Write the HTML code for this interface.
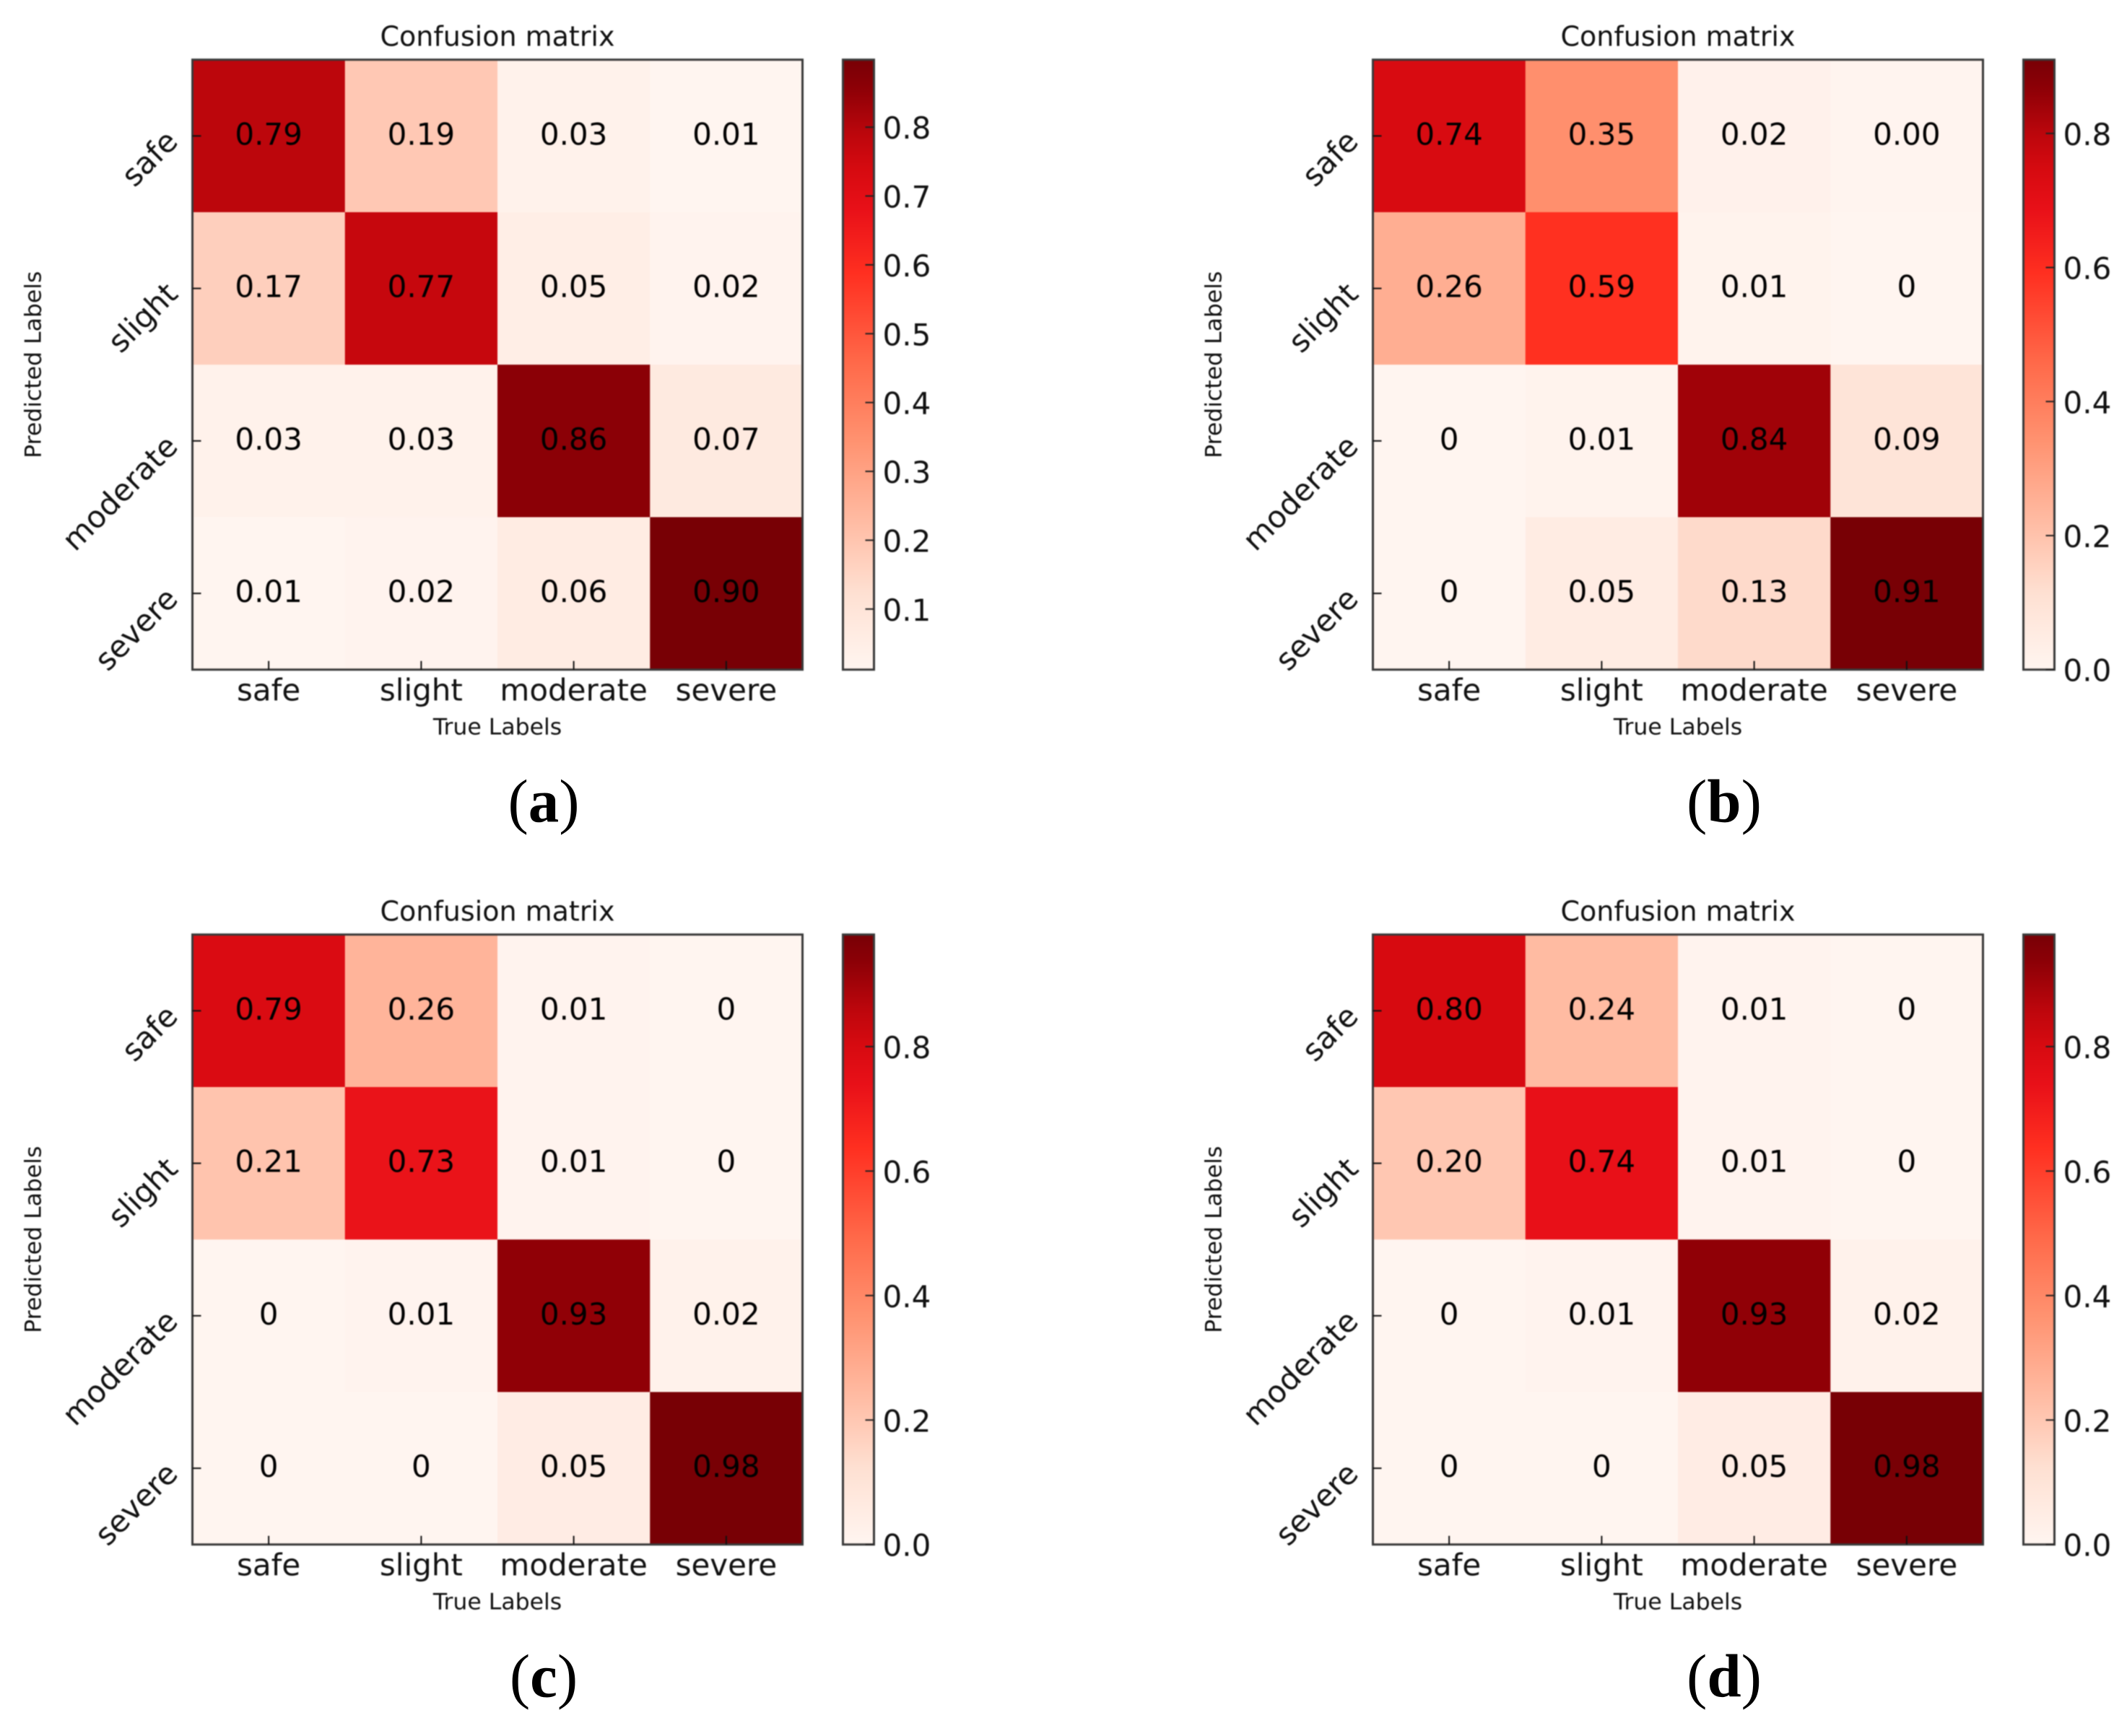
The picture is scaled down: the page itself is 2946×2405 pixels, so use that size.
<!DOCTYPE html>
<html lang="en">
<head>
<meta charset="utf-8">
<title>Confusion matrices</title>
<style>
html,body{margin:0;padding:0;background:#fff;width:2946px;height:2405px;overflow:hidden}
svg{display:block}
text{font-family:"DejaVu Sans","Liberation Sans",sans-serif;fill:#111}
.plot-layer{filter:blur(0.8px)}
text.panel-tag{font-family:"Liberation Serif",serif;font-size:85px;fill:#000}
</style>
</head>
<body>
<svg id="figure" xmlns="http://www.w3.org/2000/svg" width="2946" height="2405" viewBox="0 0 2946 2405"></svg>
<script>
const categories = ['safe', 'slight', 'moderate', 'severe'];

const matrixA = [
  [0.79, 0.19, 0.03, 0.01],
  [0.17, 0.77, 0.05, 0.02],
  [0.03, 0.03, 0.86, 0.07],
  [0.01, 0.02, 0.06, 0.90]
];
const matrixB = [
  [0.74, 0.35, 0.02, 0.004],
  [0.26, 0.59, 0.01, 0],
  [0, 0.01, 0.84, 0.09],
  [0, 0.05, 0.13, 0.91]
];
const matrixC = [
  [0.79, 0.26, 0.01, 0],
  [0.21, 0.73, 0.01, 0],
  [0, 0.01, 0.93, 0.02],
  [0, 0, 0.05, 0.98]
];
const matrixD = [
  [0.80, 0.24, 0.01, 0],
  [0.20, 0.74, 0.01, 0],
  [0, 0.01, 0.93, 0.02],
  [0, 0, 0.05, 0.98]
];

const colorbarTicksA = [0.1, 0.2, 0.3, 0.4, 0.5, 0.6, 0.7, 0.8];
const colorbarTicksB = [0.0, 0.2, 0.4, 0.6, 0.8];
const colorbarTicksC = [0.0, 0.2, 0.4, 0.6, 0.8];
const colorbarTicksD = [0.0, 0.2, 0.4, 0.6, 0.8];

const colorRange = [
  [0.000, '#fff5f0'], [0.125, '#fee0d2'], [0.250, '#ffb9a0'], [0.375, '#ff9270'],
  [0.500, '#ff6a4a'], [0.650, '#ff2f20'], [0.755, '#e81018'], [0.820, '#d60a10'],
  [0.876, '#bd060c'], [0.955, '#8c0006'], [1.000, '#780005']
];

const NS = 'http://www.w3.org/2000/svg';
const root = document.getElementById('figure');

function make(tag, attrs, parent, content) {
  const el = document.createElementNS(NS, tag);
  for (const k in attrs) el.setAttribute(k, attrs[k]);
  if (content !== undefined) el.textContent = content;
  parent.appendChild(el);
  return el;
}
function hexToRgb(h) {
  return [parseInt(h.slice(1, 3), 16), parseInt(h.slice(3, 5), 16), parseInt(h.slice(5, 7), 16)];
}
function colormap(t) {
  const v = Math.max(0, Math.min(1, t));
  for (let i = 1; i < colorRange.length; i++) {
    if (v <= colorRange[i][0]) {
      const a = colorRange[i - 1], b = colorRange[i];
      const f = (v - a[0]) / (b[0] - a[0]);
      const ca = hexToRgb(a[1]), cb = hexToRgb(b[1]);
      return 'rgb(' + ca.map((c, j) => Math.round(c + (cb[j] - c) * f)).join(',') + ')';
    }
  }
  return colorRange[colorRange.length - 1][1];
}
function formatValue(v) {
  return v === 0 ? '0' : v.toFixed(2);
}

const defs = make('defs', {}, root);
const gradient = make('linearGradient', { id: 'colorbar-gradient', x1: 0, y1: 1, x2: 0, y2: 0 }, defs);
colorRange.forEach(s => make('stop', { offset: s[0], 'stop-color': s[1] }, gradient));

function drawPanel(id, tag, matrix, ticks, vmin, vmax, left, top) {
  const size = 845;
  const spine = '#3a3a3a';
  const tickLen = 12;
  const n = categories.length;
  const xCenter = i => left + (i + 0.5) * size / n;
  const yCenter = i => top + (i + 0.5) * size / n;
  const xBand = i => left + i * size / n;
  const yBand = i => top + i * size / n;
  const norm = v => (v - vmin) / (vmax - vmin);

  const panel = make('g', {}, root);
  
  

  const g = make('g', { class: 'plot-layer' }, panel);
  
  

  const title = make('text', { x: left + size / 2, y: top - 19, 'font-size': 38, 'text-anchor': 'middle' }, g, 'Confusion matrix');
  
  

  matrix.forEach((row, r) => row.forEach((v, c) => {
    const cell = make('rect', { x: xBand(c), y: yBand(r), width: size / n + 0.5, height: size / n + 0.5, fill: colormap(norm(v)) }, g);
    
    
  }));
  matrix.forEach((row, r) => row.forEach((v, c) => {
    const label = make('text', { x: xCenter(c), y: yCenter(r) + 12, 'font-size': 42, 'text-anchor': 'middle', style: 'fill:#000' }, g, formatValue(v));
    
    
  }));

  const frame = make('rect', { x: left, y: top, width: size, height: size, fill: 'none', stroke: spine, 'stroke-width': 3 }, g);
  
  

  categories.forEach((name, i) => {
    const xt = make('line', { x1: xCenter(i), x2: xCenter(i), y1: top + size, y2: top + size - tickLen, stroke: '#111', 'stroke-width': 2 }, g);
    
    
    const xl = make('text', { x: xCenter(i), y: top + size + 43, 'font-size': 42, 'text-anchor': 'middle' }, g, name);
    
    
    const yt = make('line', { x1: left, x2: left + tickLen, y1: yCenter(i), y2: yCenter(i), stroke: '#111', 'stroke-width': 2 }, g);
    
    
    const ax = left - 18, ay = yCenter(i) + 10;
    const yl = make('text', { x: ax, y: ay, 'font-size': 42, 'text-anchor': 'end', transform: 'rotate(-45 ' + ax + ' ' + ay + ')' }, g, name);
    
    
  });

  const xTitle = make('text', { x: left + size / 2, y: top + size + 90, 'font-size': 31.5, 'text-anchor': 'middle' }, g, 'True Labels');
  
  

  const yx = left - 210, yy = top + size / 2;
  const yTitle = make('text', { x: yx, y: yy, 'font-size': 31.5, 'text-anchor': 'middle', transform: 'rotate(-90 ' + yx + ' ' + yy + ')' }, g, 'Predicted Labels');
  
  

  const barX = left + 901, barW = 43;
  const barY = v => top + size - norm(v) * size;
  const bar = make('rect', { x: barX, y: top, width: barW, height: size, fill: 'url(#colorbar-gradient)', stroke: spine, 'stroke-width': 3 }, g);
  
  
  ticks.forEach(t => {
    const yPos = barY(t);
    const tk = make('line', { x1: barX + barW, x2: barX + barW - tickLen, y1: yPos, y2: yPos, stroke: '#222', 'stroke-width': 2 }, g);
    
    
    const lb = make('text', { x: barX + barW + 12, y: yPos + 16, 'font-size': 42 }, g, t.toFixed(1));
    
    
  });

  const tagText = make('text', { x: left + size / 2 + 64, y: top + size + 211, 'text-anchor': 'middle', class: 'panel-tag' }, panel);
  
  
  make('tspan', {}, tagText, '(');
  make('tspan', { 'font-weight': 'bold' }, tagText, tag);
  make('tspan', {}, tagText, ')');
}

drawPanel('a', 'a', matrixA, colorbarTicksA, 0.012, 0.898, 266.5, 82.7);
drawPanel('b', 'b', matrixB, colorbarTicksB, 0, 0.91, 1901.5, 82.7);
drawPanel('c', 'c', matrixC, colorbarTicksC, 0, 0.98, 266.5, 1294.7);
drawPanel('d', 'd', matrixD, colorbarTicksD, 0, 0.98, 1901.5, 1294.7);
</script>
</body>
</html>
